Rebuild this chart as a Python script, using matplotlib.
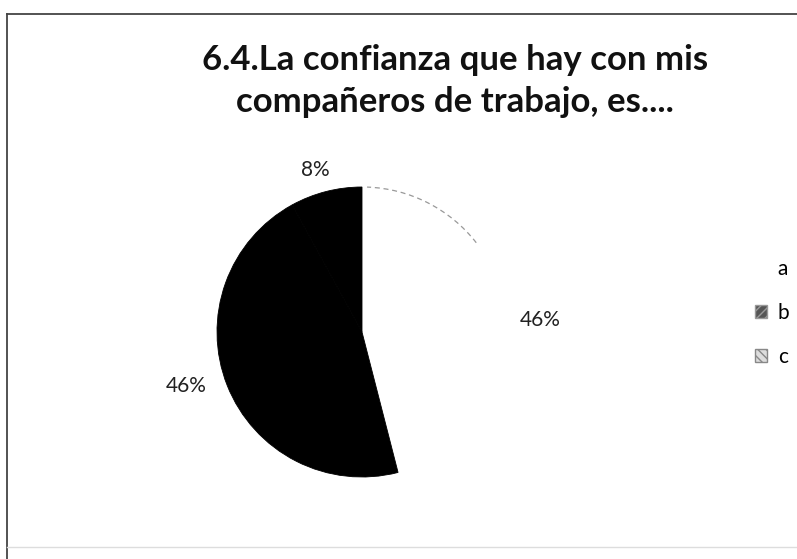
import numpy as np
import matplotlib
matplotlib.use('Agg')
import matplotlib.pyplot as plt
from matplotlib.lines import Line2D
from matplotlib.patches import Patch, Arc

categories = ['a', 'b', 'c']
values = [46, 46, 8]
title = '6.4.La confianza que hay con mis\ncompañeros de trabajo, es....'

W, H = 797, 559
fig = plt.figure(figsize=(W / 100, H / 100), dpi=100)
fig.patch.set_facecolor('white')

# pie placed so the center sits at (362, 332) px, radius 145 px
cx, cy, r = 362, 332, 145
ax = fig.add_axes([(cx - r) / W, 1 - (cy + r) / H, 2 * r / W, 2 * r / H])

wedges, texts, autotexts = ax.pie(values, colors=['white', 'black', 'black'],
                                  startangle=90, counterclock=False,
                                  autopct='%1.0f%%', pctdistance=1.2,
                                  textprops=dict(fontsize=15, family='Lato', color='#222222'))
wedges[0].set_edgecolor('none')
for w in wedges[1:]:
    w.set_edgecolor('black')
    w.set_linewidth(0.6)
ax.set_xlim(-1, 1)
ax.set_ylim(-1, 1)
ax.set_aspect('auto')
ax.axis('off')

# nudge labels to where the scan has them
autotexts[0].set_position((1.23, 0.08))
autotexts[1].set_position((-1.21, -0.37))
autotexts[2].set_position((-0.32, 1.12))

# faint scanned outline on the white slice
ax.add_patch(Arc((0, 0), 2, 2, theta1=38, theta2=88, color='#999999', lw=0.9,
                 linestyle=(0, (4, 3)), clip_on=False))

fig.text(455 / W, 1 - 81 / H, title, ha='center', va='center', fontsize=25,
         fontweight='bold', family='Lato', color='#111111', linespacing=1.35)

handles = [Patch(facecolor='white', edgecolor='none'),
           Patch(facecolor='#555555', edgecolor='#999999', hatch='////'),
           Patch(facecolor='#dddddd', edgecolor='#888888', hatch='\\\\\\\\')]
fig.legend(handles, categories, loc='center', bbox_to_anchor=(772 / W, 1 - 313 / H),
           frameon=False, prop=dict(family='Lato', size=15),
           handlelength=0.6, handleheight=0.6, handletextpad=0.5, labelspacing=1.15)

# scanned frame
fig.add_artist(Line2D([7 / W, 1], [1 - 14 / H, 1 - 14 / H], color='#444444', lw=1.3))
fig.add_artist(Line2D([7 / W, 7 / W], [1 - 14 / H, 0], color='#444444', lw=1.3))
fig.add_artist(Line2D([7 / W, 1], [1 - 547 / H, 1 - 547 / H], color='#dddddd', lw=1.0))

fig.savefig('out.png', dpi=100, facecolor='white')
